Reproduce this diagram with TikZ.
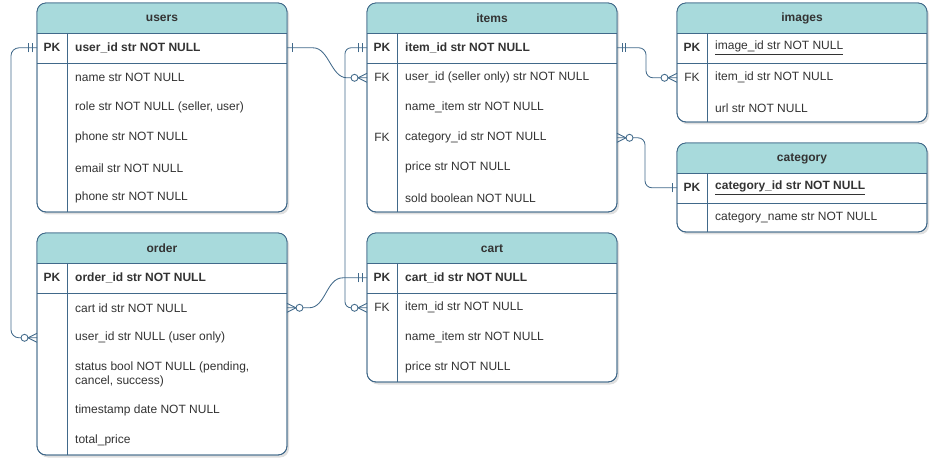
\documentclass[tikz,border=0pt]{standalone}
\usepackage{fontspec}
\setmainfont{Liberation Sans}
\usetikzlibrary{shadows,calc}
\definecolor{erstroke}{HTML}{41698A}
\definecolor{hdrfill}{HTML}{A8DADC}
\definecolor{ertext}{HTML}{333333}
\tikzset{
  erline/.style={draw=erstroke, line width=0.85pt},
  tbl/.style={draw=erstroke, line width=0.85pt, fill=white, rounded corners=9pt,
    minimum width=250pt, inner sep=0pt, outer sep=0pt,
    drop shadow={shadow xshift=2pt, shadow yshift=-2.5pt, opacity=0.18, fill=black!70}},
  hdrtxt/.style={inner sep=0pt, text=ertext, font=\fontsize{12}{14}\selectfont\bfseries},
  rowtxt/.style={anchor=west, inner sep=0pt, text=ertext, align=left, yshift=-0.8pt, font=\fontsize{12}{14}\selectfont},
  keytxt/.style={inner sep=0pt, text=ertext, yshift=-0.8pt, font=\fontsize{12}{14}\selectfont},
  pics/onebar/.style={code={\draw[erline] (5,-4.5) -- (5,4.5);}},
  pics/twobar/.style={code={\draw[erline] (5,-4.5) -- (5,4.5) (8.5,-4.5) -- (8.5,4.5);}},
  pics/zeromany/.style={code={\draw[erline] (0,-4.5) -- (9,0) -- (0,4.5);
      \draw[erline, fill=white] (12.5,0) circle (3.5);}},
}
\newcommand\ertbl[5]{%
  \node[tbl, minimum height=#4pt, anchor=north west] (#1) at (#2,#3) {};
  \fill[hdrfill, rounded corners=9pt] (#2,#3+30) -- (#2,#3) -- (#2+250,#3) -- (#2+250,#3+30);
  \draw[erline, rounded corners=9pt] (#1.north west) rectangle (#1.south east);
  \draw[erline] (#2,#3+30) -- ++(250,0) (#2,#3+60) -- ++(250,0) (#2+30,#3+30) -- (#2+30,#3+#4);
  \node[hdrtxt] (#1-title) at (#2+125,#3+15.5) {#5};
}
\begin{document}
\begin{tikzpicture}[x=1pt,y=-1pt]
\useasboundingbox (0,0) rectangle (935,465);

% users
\ertbl{users}{37}{3}{209}{users}
\node[keytxt] (users-k0) at (52,47) {\bfseries PK};
\node[rowtxt] (users-pk) at (75,47) {\bfseries user\_id str NOT NULL};
\node[rowtxt] (users-r1) at (75,77) {name str NOT NULL};
\node[rowtxt] (users-r2) at (75,107) {role str NOT NULL (seller, user)};
\node[rowtxt] (users-r3) at (75,137) {phone str NOT NULL};
\node[rowtxt] (users-r4) at (75,167) {email str NOT NULL};
\node[rowtxt] (users-r5) at (75,197) {phone str NOT NULL};

% items
\ertbl{items}{367}{3}{209}{items}
\node[keytxt] (items-k0) at (382,47) {\bfseries PK};
\node[rowtxt] (items-pk) at (405,47) {\bfseries item\_id str NOT NULL};
\node[keytxt] (items-k1) at (382,77) {FK};
\node[rowtxt] (items-fk1) at (405,77) {user\_id (seller only) str NOT NULL};
\node[rowtxt] (items-r2) at (405,107) {name\_item str NOT NULL};
\node[keytxt] (items-k3) at (382,137) {FK};
\node[rowtxt] (items-fk2) at (405,137) {category\_id str NOT NULL};
\node[rowtxt] (items-r4) at (405,167) {price str NOT NULL};
\node[rowtxt] (items-r5) at (405,197) {sold boolean NOT NULL};

% images
\ertbl{images}{677}{3}{119}{images}
\node[keytxt] (images-k0) at (692,47) {\bfseries PK};
\node[rowtxt] (images-pk) at (715,47) {\underline{image\_id str NOT NULL}};
\node[keytxt] (images-k1) at (692,77) {FK};
\node[rowtxt] (images-fk) at (715,77) {item\_id str NOT NULL};
\node[rowtxt] (images-r2) at (715,107) {url str NOT NULL};

% category
\ertbl{category}{677}{143}{89}{category}
\node[keytxt] (category-k0) at (692,187) {\bfseries PK};
\node[rowtxt] (category-pk) at (715,187) {\bfseries\underline{category\_id str NOT NULL}};
\node[rowtxt] (category-r1) at (715,217) {category\_name str NOT NULL};

% order
\ertbl{order}{37}{233}{222}{order}
\node[keytxt] (order-k0) at (52,277) {\bfseries PK};
\node[rowtxt] (order-pk) at (75,277) {\bfseries order\_id str NOT NULL};
\node[rowtxt] (order-r1) at (75,307) {cart id str NOT NULL};
\node[rowtxt] (order-r2) at (75,337) {user\_id str NULL (user only)};
\node[rowtxt] (order-r3) at (75,374) {status bool NOT NULL (pending,\\cancel, success)};
\node[rowtxt] (order-r4) at (75,410) {timestamp date NOT NULL};
\node[rowtxt] (order-r5) at (75,440) {total\_price};

% cart
\ertbl{cart}{367}{233}{149}{cart}
\node[keytxt] (cart-k0) at (382,277) {\bfseries PK};
\node[rowtxt] (cart-pk) at (405,277) {\bfseries cart\_id str NOT NULL};
\node[keytxt] (cart-k1) at (382,307) {FK};
\node[rowtxt] (cart-fk) at (405,307) {item\_id str NOT NULL};
\node[rowtxt] (cart-r2) at (405,337) {name\_item str NOT NULL};
\node[rowtxt] (cart-r3) at (405,367) {price str NOT NULL};

% connectors
\draw[erline] (users.east |- users-pk) -- ++(26,0)
  .. controls +(16,0) and +(-16,0) .. ($(items.west |- items-fk1)+(-20,0)$)
  -- (items.west |- items-fk1);
\draw[erline, rounded corners=6pt] (items.west |- items-pk) -- ++(-22,0) |- (cart.west |- cart-fk);
\draw[erline, rounded corners=7pt] (items.east |- items-pk) -- ++(29,0) |- (images.west |- images-fk);
\draw[erline, rounded corners=7pt] (items.east |- items-fk2) -- ++(28,0) |- (category.west |- category-pk);
\draw[erline, rounded corners=8pt] (users.west |- users-pk) -- ++(-26,0) |- (order.west |- order-r2);
\draw[erline] (order.east |- order-r1) -- ++(22,0)
  .. controls +(17,0) and +(-17,0) .. ($(cart.west |- cart-pk)+(-24,0)$)
  -- (cart.west |- cart-pk);

% markers
\pic at (users.east |- users-pk) {onebar};
\pic[rotate=180] at (items.west |- items-fk1) {zeromany};
\pic[rotate=180] at (items.west |- items-pk) {twobar};
\pic[rotate=180] at (cart.west |- cart-fk) {zeromany};
\pic at (items.east |- items-pk) {twobar};
\pic[rotate=180] at (images.west |- images-fk) {zeromany};
\pic at (items.east |- items-fk2) {zeromany};
\pic[rotate=180] at (category.west |- category-pk) {onebar};
\pic[rotate=180] at (users.west |- users-pk) {twobar};
\pic[rotate=180] at (order.west |- order-r2) {zeromany};
\pic at (order.east |- order-r1) {zeromany};
\pic[rotate=180] at (cart.west |- cart-pk) {twobar};
\end{tikzpicture}
\end{document}
